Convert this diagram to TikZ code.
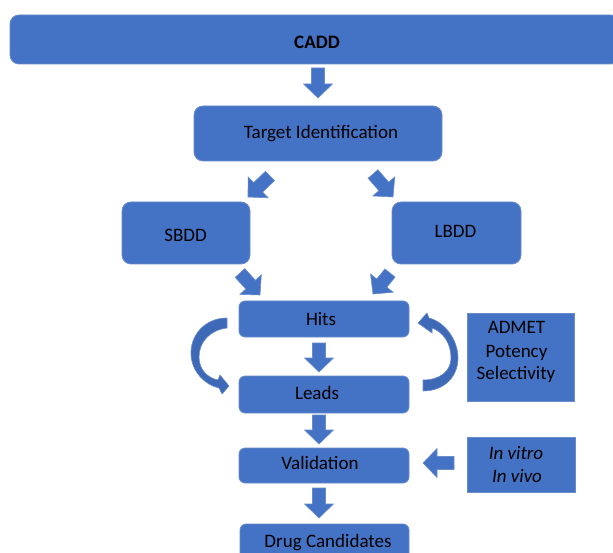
\documentclass[tikz,border=0pt]{standalone}
\usepackage{fontspec}
\setmainfont{Carlito}
\usetikzlibrary{calc}
\definecolor{boxblue}{HTML}{4472C4}
\definecolor{edgeblue}{HTML}{6A8CCB}
\definecolor{curveblue}{HTML}{3E69B6}
\tikzset{
  box/.style={draw=edgeblue, line width=0.8pt, fill=boxblue, rounded corners=9pt, inner sep=0pt},
  smallbox/.style={box, rounded corners=6pt},
  sqbox/.style={draw=edgeblue, line width=0.8pt, fill=boxblue, rounded corners=0pt, inner sep=0pt},
  txt/.style={anchor=base, inner sep=0pt, font=\fontsize{19}{23}\selectfont, text=black},
  itxt/.style={anchor=base, inner sep=0pt, font=\fontsize{19}{23}\selectfont\itshape, text=black},
  barrow/.style={fill=boxblue, draw=edgeblue, line width=0.6pt},
  curvearrow/.style={fill=curveblue, draw=edgeblue, line width=0.6pt},
}
% block arrow from #1 (tail) to #2 (tip)
\newcommand{\blockarrow}[2]{%
  \filldraw[barrow]
    ($(#1)!6.5pt!-90:(#2)$) --
    ($(#2)!14pt!(#1)!6.5pt!90:(#1)$) --
    ($(#2)!14pt!(#1)!14.5pt!90:(#1)$) --
    (#2) --
    ($(#2)!14pt!(#1)!14.5pt!-90:(#1)$) --
    ($(#2)!14pt!(#1)!6.5pt!-90:(#1)$) --
    ($(#1)!6.5pt!90:(#2)$) -- cycle;}
\begin{document}
\begin{tikzpicture}[x=1pt,y=-1pt]
\useasboundingbox (0,0) rectangle (613,553);
\clip (0,0) rectangle (613,553);
% boxes
\node[box, minimum width=610pt, minimum height=49pt] (cadd) at (315,39.5) {};
\node[box, minimum width=248pt, minimum height=55pt] (ti) at (318,133.5) {};
\node[box, minimum width=128pt, minimum height=62pt] (sbdd) at (186,233) {};
\node[box, minimum width=129pt, minimum height=62pt] (lbdd) at (456.5,233) {};
\node[smallbox, minimum width=170pt, minimum height=36pt] (hits) at (324,319) {};
\node[smallbox, minimum width=170pt, minimum height=37pt] (leads) at (324,394.5) {};
\node[smallbox, minimum width=170pt, minimum height=35pt] (valid) at (324,465.5) {};
\node[smallbox, minimum width=169pt, minimum height=42pt] (drug) at (324.5,545) {};
\node[sqbox, minimum width=107pt, minimum height=88pt] (admet) at (520.5,357) {};
\node[sqbox, minimum width=108pt, minimum height=55pt] (vitro) at (521,464.5) {};
% texts
\node[txt, font=\fontsize{19}{23}\selectfont\bfseries] (tcadd) at (317,49) {CADD};
\node[txt] (tti) at (321,139) {Target Identification};
\node[txt] (tsbdd) at (185.5,242) {SBDD};
\node[txt] (tlbdd) at (455.5,238) {LBDD};
\node[txt] (thits) at (321,326) {Hits};
\node[txt] (tleads) at (317,399) {Leads};
\node[txt] (tvalid) at (320,469) {Validation};
\node[txt] (tdrug) at (328,547) {Drug Candidates};
\node[txt] (tadmet1) at (516.5,334) {ADMET};
\node[txt] (tadmet2) at (516.5,357) {Potency};
\node[txt] (tadmet3) at (516,379) {Selectivity};
\node[itxt] (tvitro1) at (516,459) {In vitro};
\node[itxt] (tvitro2) at (517,482) {In vivo};
% arrow end points
\coordinate (a1s) at (318,68);  \coordinate (a1e) at (318,98);
\coordinate (a2s) at (270,176); \coordinate (a2e) at (248,197);
\coordinate (a3s) at (373,174); \coordinate (a3e) at (393,197);
\coordinate (a4s) at (240,273); \coordinate (a4e) at (260,295);
\coordinate (a5s) at (390,273); \coordinate (a5e) at (373,294);
\coordinate (a6s) at (319,343); \coordinate (a6e) at (319,372);
\coordinate (a7s) at (319,415); \coordinate (a7e) at (319,444);
\coordinate (a8s) at (319,488); \coordinate (a8e) at (319,518);
\coordinate (a9s) at (454,463); \coordinate (a9e) at (423,463);
\blockarrow{a1s}{a1e}
\blockarrow{a2s}{a2e}
\blockarrow{a3s}{a3e}
\blockarrow{a4s}{a4e}
\blockarrow{a5s}{a5e}
\blockarrow{a6s}{a6e}
\blockarrow{a7s}{a7e}
\blockarrow{a8s}{a8e}
\blockarrow{a9s}{a9e}
% curved arrows
\filldraw[curvearrow] (227,318) .. controls (205,318) and (190,335) .. (191,355)
  .. controls (192,372) and (205,385) .. (219,388) -- (222,394) -- (229,386) -- (220,375) -- (218,380)
  .. controls (208,378) and (199,370) .. (199,357)
  .. controls (199,342) and (210,330) .. (227,328) -- cycle;
\filldraw[curvearrow] (423,391) .. controls (445,391) and (458,376) .. (458,358)
  .. controls (458,340) and (445,322) .. (429,318) -- (427,313) -- (418,323) -- (432,333) -- (432,328)
  .. controls (443,332) and (451,343) .. (451,358)
  .. controls (451,371) and (440,380) .. (423,380) -- cycle;
\end{tikzpicture}
\end{document}
